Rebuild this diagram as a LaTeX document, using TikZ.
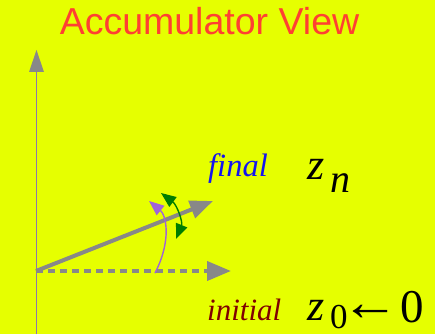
\documentclass[tikz,border=0pt]{standalone}
\usepackage{fontspec}
\usepackage{graphicx}
\setmainfont{Liberation Serif}
\newfontfamily\titlefont{Liberation Sans}
\usetikzlibrary{arrows.meta}
\definecolor{bg}{RGB}{230,255,0}
\definecolor{titlered}{RGB}{255,64,50}
\definecolor{arrgray}{RGB}{136,136,136}
\definecolor{axispurple}{RGB}{140,120,170}
\definecolor{lilac}{RGB}{160,100,215}
\definecolor{dgreen}{RGB}{0,125,0}
\definecolor{fblue}{RGB}{20,20,240}
\definecolor{idred}{RGB}{128,0,0}
\tikzset{
  thickarrow/.style={draw=arrgray, line width=4pt, -{Triangle[length=24pt,width=19pt]}},
  thinarrow/.style={line width=1.4pt},
  lbl/.style={inner sep=0pt, anchor=base west},
}
\begin{document}
\begin{tikzpicture}[x=1pt,y=-1pt]
\fill[bg] (0,0) rectangle (435,334);
\useasboundingbox (0,0) rectangle (435,334);
\node[lbl, anchor=base, text=titlered, font=\titlefont\fontsize{37.5}{42}\selectfont] (title) at (209.5,35) {Accumulator View};
% axis
\coordinate (axbot) at (36.5,334);
\coordinate (axtop) at (36.5,50);
\draw[draw=axispurple, line width=1.4pt] (axbot) -- (36.5,70);
\fill[arrgray] (axtop) -- (44,72) -- (29,72) -- cycle;
% vectors
\coordinate (o) at (36,271);
\coordinate (init) at (231,271);
\coordinate (fin) at (213,201);
\draw[thickarrow, dash pattern=on 7pt off 5pt] (o) -- (init);
\draw[thickarrow, -{Triangle[length=23pt,width=18pt]}] (o) -- (fin);
% purple rotation arrow
\coordinate (pa) at (155,273);
\coordinate (pb) at (149,201);
\draw[thinarrow, draw=lilac, -{Triangle[length=15pt,width=12pt]}] (pa) .. controls (172,240) and (166,215) .. (pb);
% green double arrow
\coordinate (ga) at (161,193);
\coordinate (gb) at (176,239);
\draw[thinarrow, draw=dgreen, {Triangle[length=15pt,width=12pt]}-{Triangle[length=15pt,width=12pt]}] (ga) .. controls (177,205) and (183,222) .. (gb);
% labels
\node[lbl, text=fblue, font=\itshape\fontsize{32.5}{36}\selectfont] (final) at (208,176) {final};
\node[lbl, font=\itshape\fontsize{44}{48}\selectfont] (zn) at (307,179) {z};
\node[lbl, font=\itshape\fontsize{40}{44}\selectfont] (nsub) at (330,192) {n};
\node[lbl, text=idred, font=\itshape\fontsize{31}{34}\selectfont] (initial) at (207,320) {initial};
\node[lbl, font=\itshape\fontsize{44}{48}\selectfont] (z0) at (307,320) {z};
\node[lbl, font=\fontsize{35}{38}\selectfont] (zsub) at (330,328) {0};
\node[lbl, font=\fontsize{40}{44}\selectfont] (arr) at (349,320) {\hspace*{-8pt}\scalebox{1.45}[1.35]{←}};
\node[lbl, font=\fontsize{47}{50}\selectfont] (zero) at (400,322) {0};
\end{tikzpicture}
\end{document}
